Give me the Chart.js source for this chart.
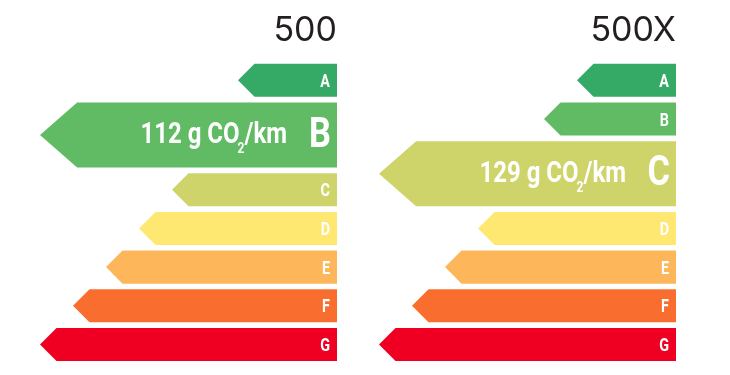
<!DOCTYPE html>
<html>
<head>
<meta charset="utf-8">
<script src="https://cdn.jsdelivr.net/npm/chart.js@4.4.1/dist/chart.umd.min.js"></script>
<style>
    html, body { margin: 0; padding: 0; background: #fff; }
    #wrap { position: relative; width: 730px; height: 375px; overflow: hidden; }
    #wrap canvas { position: absolute; top: 0; }
</style>
</head>
<body>
<div id="wrap">
    <canvas id="panel500" width="345" height="375" style="left:0"></canvas>
    <canvas id="panel500x" width="385" height="375" style="left:345px"></canvas>
</div>
<script>
// energy classes and how far each arrow reaches (class A shortest)
const classes = ['A', 'B', 'C', 'D', 'E', 'F', 'G'];
const arrowLength = [3, 4, 5, 6, 7, 8, 9];
const classColors = ['#34aa66', '#60bb64', '#ced46a', '#ffe872', '#feb65a', '#f96e2e', '#ef0023'];

// one panel per model
const models = ['500', '500X'];
const co2 = [112, 129];
const ratings = ['B', 'C'];

// row sizes, in "normal bar" units
const BAR = 1;
const BIG = 65 / 33;
const GAP = 5.6 / 33;
const SX = 0.8;            // horizontal squeeze, the label font is condensed
const FONT = 'Roboto, "Liberation Sans", sans-serif';

function rowLayout(rating) {
    let pos = 0;
    return classes.map(c => {
        const h = c === rating ? BIG : BAR;
        const row = { center: pos + h / 2, h };
        pos += h + GAP;
        return row;
    });
}

function squeezed(ctx, text, x, y, size, align) {
    ctx.save();
    ctx.translate(x, y);
    ctx.scale(SX, 1);
    ctx.font = `700 ${size}px ${FONT}`;
    ctx.textAlign = align;
    ctx.textBaseline = 'alphabetic';
    ctx.fillText(text, 0, 0);
    ctx.restore();
}

function textWidth(ctx, text, size) {
    ctx.font = `700 ${size}px ${FONT}`;
    return ctx.measureText(text).width * SX;
}

const arrowPlugin = {
    id: 'arrows',
    beforeDatasetsDraw(chart, args, opts) {
        const { ctx, scales: { y } } = chart;
        const unit = Math.abs(y.getPixelForValue(1) - y.getPixelForValue(0));
        chart.getDatasetMeta(0).data.forEach((el, i) => {
            const big = classes[i] === opts.rating;
            const h = opts.rows[i].h * unit;
            const cy = el.y, tip = el.x, base = el.base;
            const depth = big ? h * 0.57 : h * 0.5;

            ctx.save();
            ctx.fillStyle = classColors[i];
            ctx.beginPath();
            ctx.moveTo(base, cy - h / 2);
            ctx.lineTo(tip + depth, cy - h / 2);
            ctx.lineTo(tip, cy);
            ctx.lineTo(tip + depth, cy + h / 2);
            ctx.lineTo(base, cy + h / 2);
            ctx.closePath();
            ctx.fill();

            ctx.fillStyle = '#fff';
            if (!big) {
                squeezed(ctx, classes[i], base - 7, cy + 6.5, 18, 'right');
            } else {
                squeezed(ctx, classes[i], base - 6, cy + 11.5, 43, 'right');
                // "112 g CO₂/km", right edge 50px left of the bar end
                const main = `${opts.co2} g CO`, sub = '2', tail = '/km';
                const w1 = textWidth(ctx, main, 30);
                const w2 = textWidth(ctx, sub, 15);
                const w3 = textWidth(ctx, tail, 30);
                let x = base - 50 - (w1 + w2 + w3 - 2);
                const bl = cy + 8;
                squeezed(ctx, main, x, bl, 30, 'left');
                x += w1 - 2;
                squeezed(ctx, sub, x, bl + 10, 15, 'left');
                x += w2;
                squeezed(ctx, tail, x, bl, 30, 'left');
            }
            ctx.restore();
        });
        return false;
    }
};

function makePanel(canvasId, p, padLeft, padRight) {
    const rating = ratings[p];
    const rows = rowLayout(rating);
    const last = rows[rows.length - 1];
    const total = last.center + last.h / 2;
    const full = Math.max(...arrowLength);

    new Chart(document.getElementById(canvasId), {
        type: 'bar',
        data: {
            datasets: [{
                label: models[p],
                data: classes.map((c, i) => ({
                    x: c === rating ? full : arrowLength[i],
                    y: rows[i].center
                })),
                backgroundColor: classColors,
                barThickness: 33
            }]
        },
        options: {
            indexAxis: 'y',
            responsive: false,
            animation: false,
            layout: { padding: { left: padLeft, right: padRight, top: 0, bottom: 14 } },
            scales: {
                x: { type: 'linear', reverse: true, min: 0, max: full, offset: false, display: false },
                y: { type: 'linear', reverse: true, min: 0, max: total, offset: false, display: false }
            },
            plugins: {
                legend: { display: false },
                tooltip: { enabled: false },
                title: {
                    display: true,
                    text: models[p],
                    align: 'end',
                    color: '#231f20',
                    font: { family: 'Inter', size: 34, weight: 400 },
                    padding: { top: 10, bottom: 13 }
                },
                arrows: { rows, rating, co2: co2[p] }
            }
        },
        plugins: [arrowPlugin]
    });
}

makePanel('panel500', 0, 40, 8);
makePanel('panel500x', 1, 34, 54);
</script>
</body>
</html>
